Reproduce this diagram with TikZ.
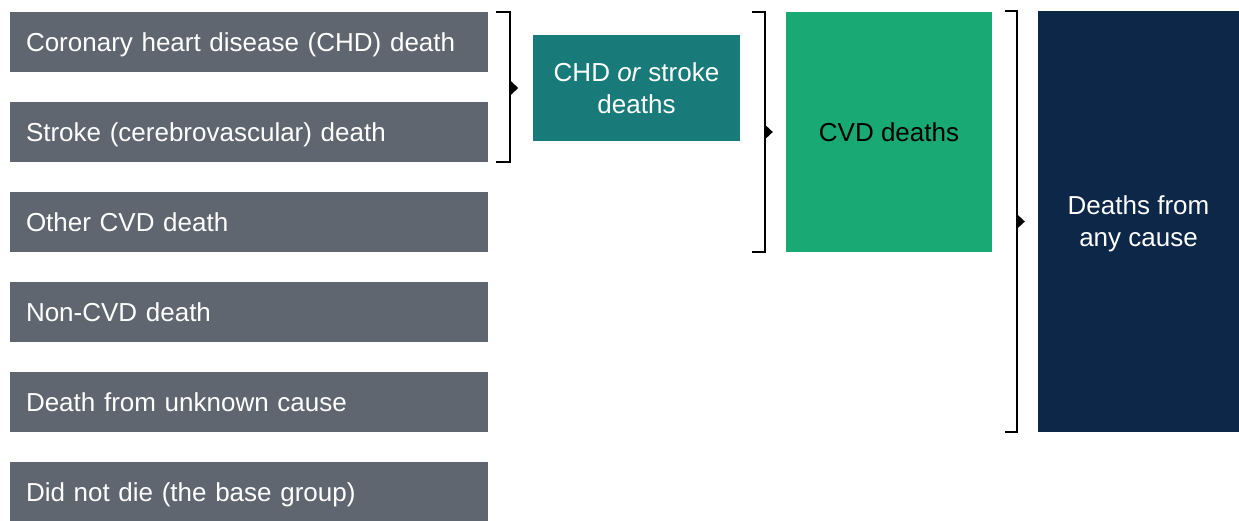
\documentclass[tikz,border=0pt]{standalone}
\usepackage{fontspec}
\setmainfont{Liberation Sans}
\definecolor{causegrey}{HTML}{5F6670}
\definecolor{chdteal}{HTML}{187B79}
\definecolor{cvdgreen}{HTML}{19A974}
\definecolor{anynavy}{HTML}{0C2748}
\begin{document}
\begin{tikzpicture}[
            x=1pt, y=-1pt,
            cause/.style={
                rectangle,fill=causegrey,text=white,
                minimum width=478pt,minimum height=60pt,
                text width=446pt,inner xsep=16pt,inner ysep=0pt,align=left,
                text height=18.6pt,text depth=0pt,
                font=\fontsize{26}{32}\selectfont,
            },
            group/.style={
                rectangle,fill=#1,text=white,inner sep=0pt,align=center,
                font=\fontsize{26}{32}\selectfont,
            },
            bracket/.style={draw=black,line width=1.8pt},
        ]
        \useasboundingbox (0, 0) rectangle (1239, 520);

        % causes of death
        \draw node[cause] (R1) at (249, 42) {Coronary heart disease (CHD) death};
        \draw node[cause] (R2) at (249, 132) {Stroke (cerebrovascular) death};
        \draw node[cause] (R3) at (249, 222) {Other CVD death};
        \draw node[cause] (R4) at (249, 312) {Non-CVD death};
        \draw node[cause] (R5) at (249, 402) {Death from unknown cause};
        \draw node[cause] (R6) at (249, 492) {Did not die (the base group)};

        % groups
        \draw node[group=chdteal,minimum width=207pt,minimum height=106pt] (CHD) at (636.5, 88) {CHD \textit{or} stroke\\deaths};
        \draw node[group=cvdgreen,text=black,minimum width=206pt,minimum height=240pt] (CVD) at (889, 132) {CVD deaths};
        \draw node[group=anynavy,text depth=0pt,minimum width=201pt,minimum height=421pt] (ANY) at (1138.5, 221.5) {Deaths from\\any cause};

        % brackets
        \draw[bracket] ([xshift=8pt]R1.north east) -- ++(14, 0) |- ([xshift=8pt]R2.south east);
        \draw[bracket] ([xshift=-34pt]CVD.north west) -- ++(13, 0) |- ([xshift=-34pt]CVD.south west);
        \draw[bracket] ([xshift=-33pt]ANY.north west) -- ++(12, 0) |- ([xshift=-33pt]ANY.south west);

        \coordinate (T1) at ([xshift=22pt]R1.east |- CHD.west);
        \coordinate (T2) at ([xshift=-21pt]CVD.west);
        \coordinate (T3) at ([xshift=-21pt]ANY.west);
        \fill ([yshift=-7.5pt]T1) -- ([xshift=8pt]T1) -- ([yshift=7.5pt]T1) -- cycle;
        \fill ([yshift=-7.5pt]T2) -- ([xshift=8pt]T2) -- ([yshift=7.5pt]T2) -- cycle;
        \fill ([yshift=-7.5pt]T3) -- ([xshift=8pt]T3) -- ([yshift=7.5pt]T3) -- cycle;
    \end{tikzpicture}
\end{document}
